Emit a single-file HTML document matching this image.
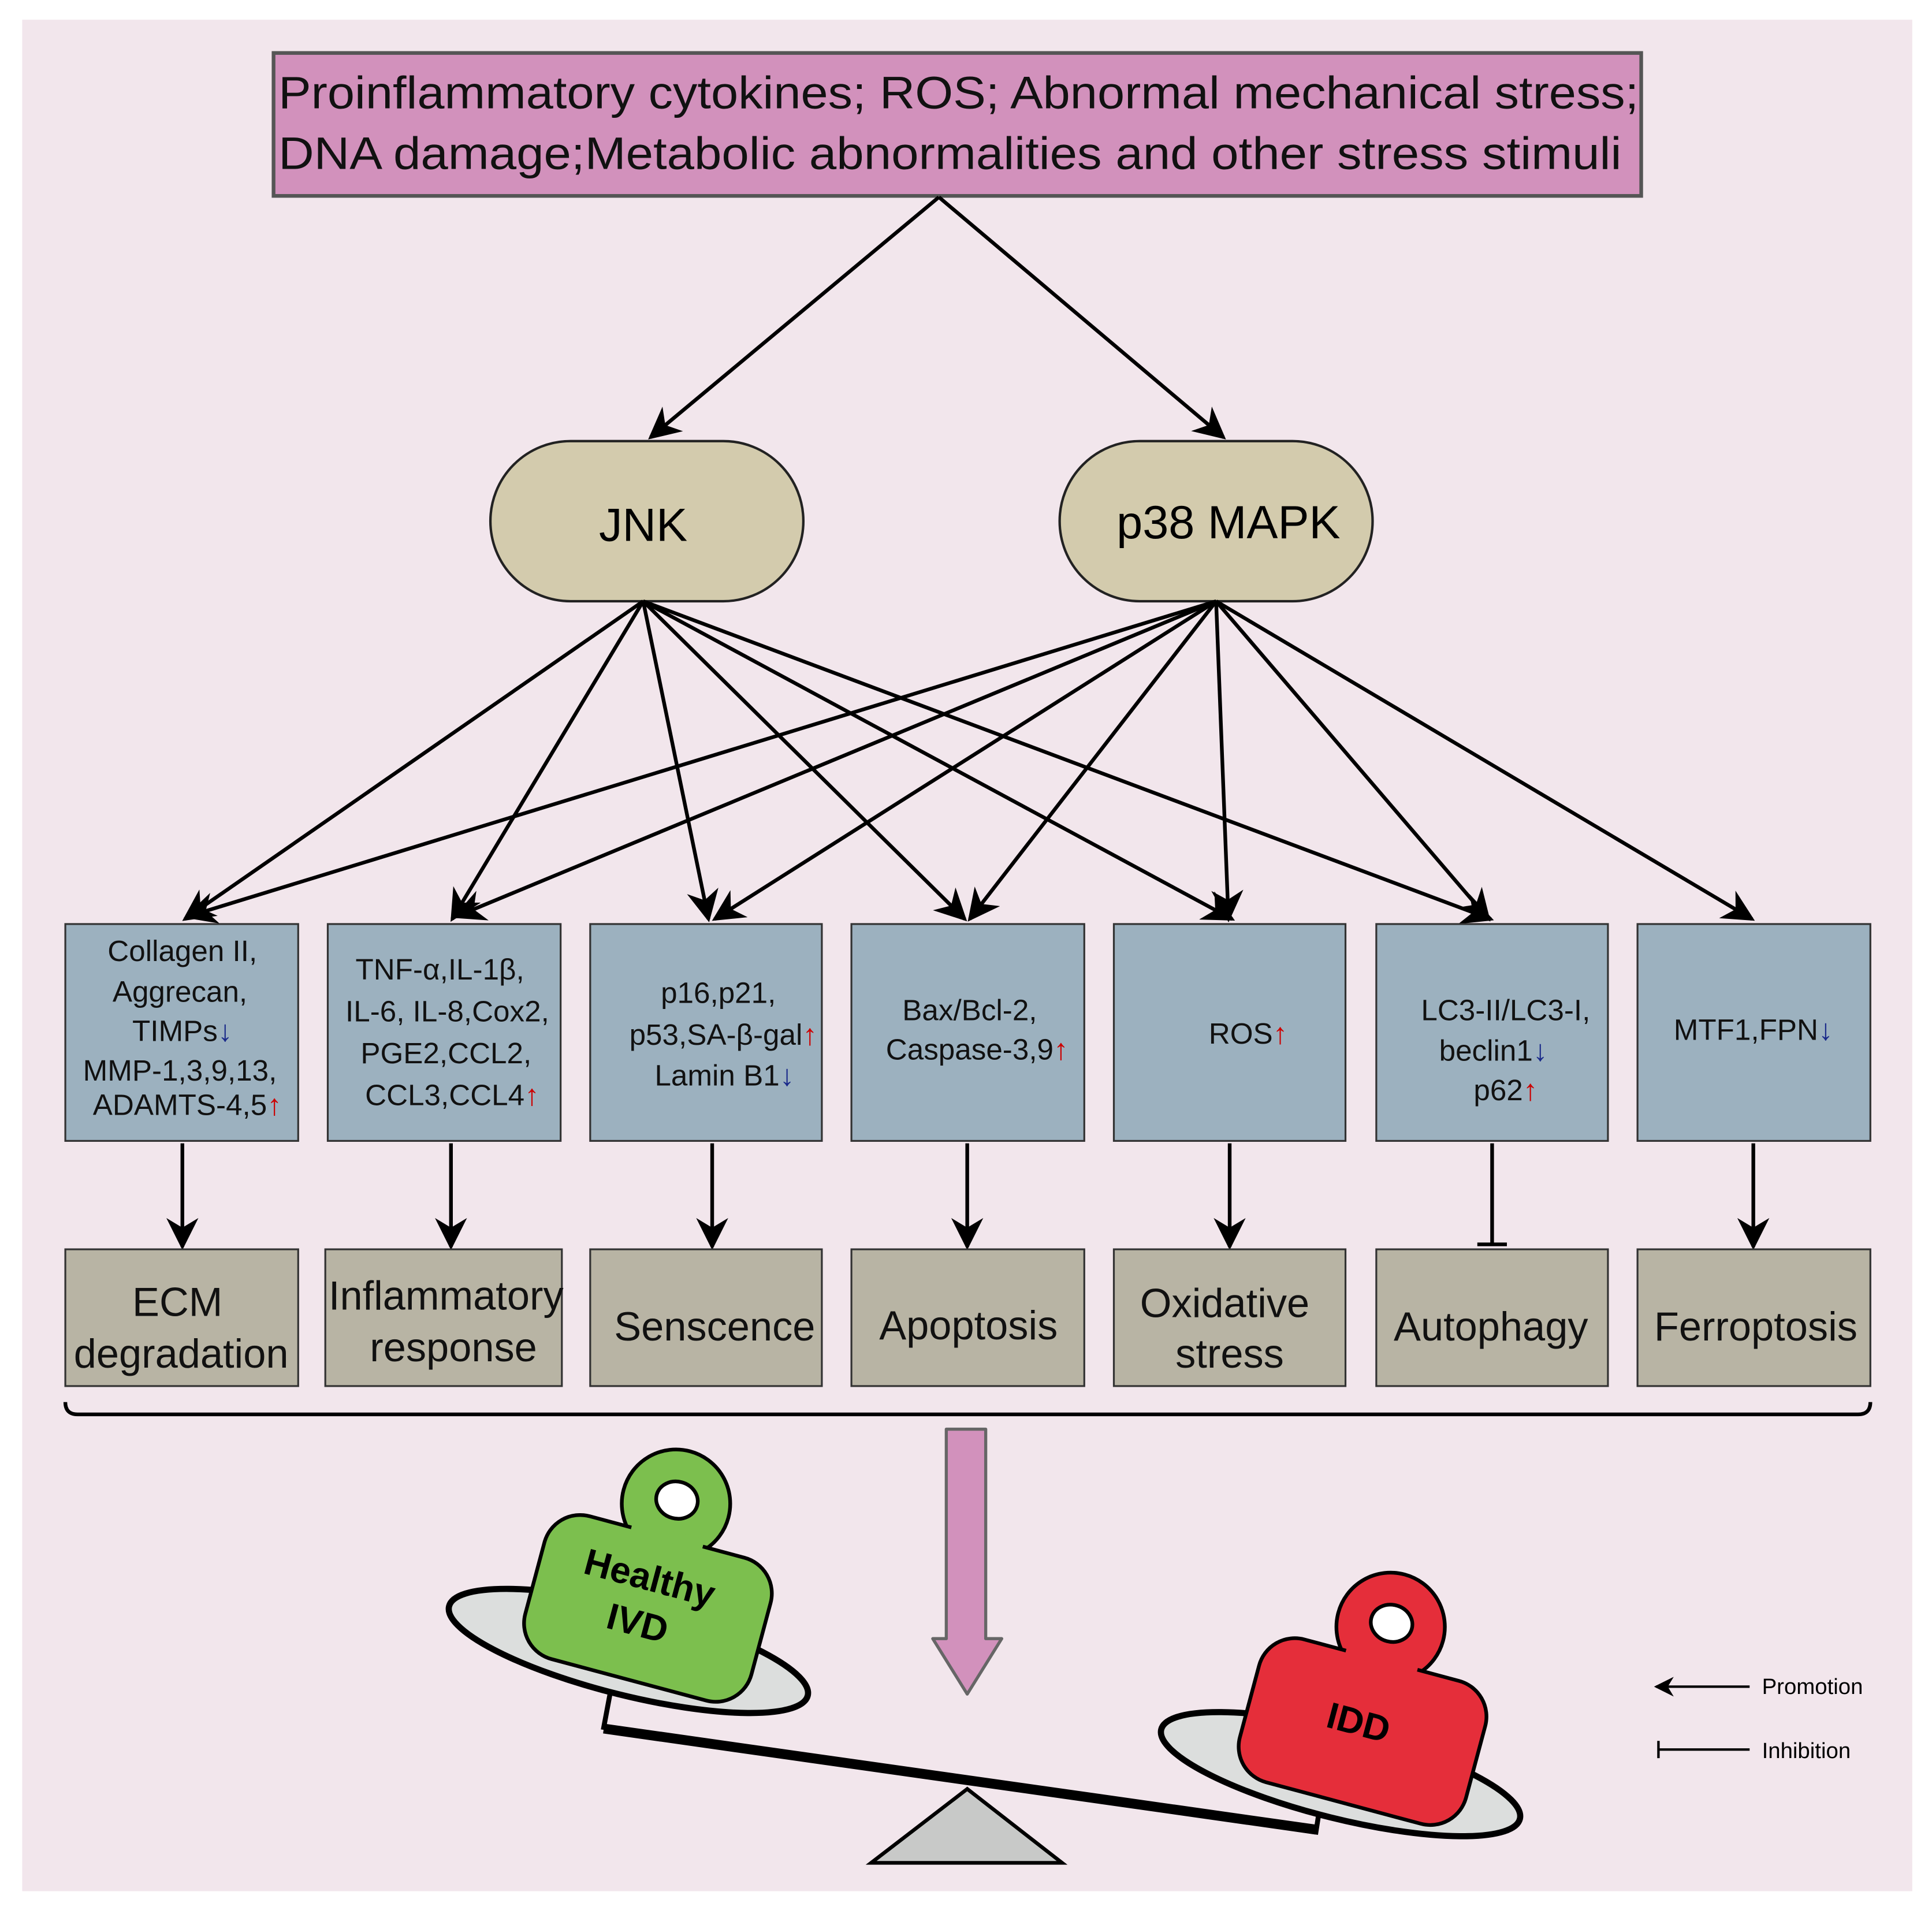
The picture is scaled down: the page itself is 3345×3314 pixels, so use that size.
<!DOCTYPE html>
<html><head><meta charset="utf-8"><style>html,body{margin:0;padding:0;background:#fff}svg{display:block}</style></head><body>
<svg width="3345" height="3314" viewBox="0 0 1568 1553.5" xmlns="http://www.w3.org/2000/svg" font-family="Liberation Sans, Arial, sans-serif">
<defs>
<marker id="a" viewBox="0 0 10 10" refX="9" refY="5" markerWidth="20" markerHeight="16" markerUnits="userSpaceOnUse" orient="auto"><path d="M0,0L10,5L0,10L3,5z" fill="#000"/></marker>
<marker id="b" viewBox="0 0 10 10" refX="9" refY="5" markerWidth="26" markerHeight="26" markerUnits="userSpaceOnUse" orient="auto"><path d="M0,0L10,5L0,10L3,5z" fill="#000"/></marker>
</defs>
<rect x="0" y="0" width="1568" height="1554" fill="#fff"/>
<rect x="18" y="16" width="1534" height="1519" fill="#f2e6ec"/>
<rect x="222" y="43" width="1110" height="116" fill="#d291bc" stroke="#555" stroke-width="3"/>
<text x="226" y="88" font-size="37" textLength="1104" lengthAdjust="spacingAndGlyphs" fill="#111">Proinflammatory cytokines; ROS; Abnormal mechanical stress;</text>
<text x="226" y="137" font-size="37" textLength="1090" lengthAdjust="spacingAndGlyphs" fill="#111">DNA damage;Metabolic abnormalities and other stress stimuli</text>
<g stroke="#000" stroke-width="3" fill="none">
<line x1="762" y1="160" x2="528" y2="355" marker-end="url(#b)"/>
<line x1="762" y1="160" x2="993" y2="355" marker-end="url(#b)"/>
</g>
<rect x="398" y="358" width="254" height="130" rx="65" fill="#d3cbad" stroke="#222" stroke-width="2"/>
<text x="522" y="439" font-size="38" text-anchor="middle">JNK</text>
<rect x="860" y="358" width="254" height="130" rx="65" fill="#d3cbad" stroke="#222" stroke-width="2"/>
<text x="997" y="437" font-size="38" text-anchor="middle">p38 MAPK</text>
<g stroke="#000" stroke-width="3" fill="none">
<line x1="522" y1="488" x2="150" y2="746" marker-end="url(#b)"/>
<line x1="522" y1="488" x2="367" y2="746" marker-end="url(#b)"/>
<line x1="522" y1="488" x2="575" y2="746" marker-end="url(#b)"/>
<line x1="522" y1="488" x2="783" y2="746" marker-end="url(#b)"/>
<line x1="522" y1="488" x2="1000" y2="746" marker-end="url(#b)"/>
<line x1="522" y1="488" x2="1210" y2="746" marker-end="url(#b)"/>
<line x1="987" y1="488" x2="152" y2="744" marker-end="url(#b)"/>
<line x1="987" y1="488" x2="370" y2="744" marker-end="url(#b)"/>
<line x1="987" y1="488" x2="580" y2="746" marker-end="url(#b)"/>
<line x1="987" y1="488" x2="787" y2="746" marker-end="url(#b)"/>
<line x1="987" y1="488" x2="997" y2="746" marker-end="url(#b)"/>
<line x1="987" y1="488" x2="1208" y2="746" marker-end="url(#b)"/>
<line x1="987" y1="488" x2="1422" y2="746" marker-end="url(#b)"/>
</g>
<g fill="#9cb1bf" stroke="#333" stroke-width="1.5">
<rect x="53" y="750" width="189" height="176"/><rect x="266" y="750" width="189" height="176"/>
<rect x="479" y="750" width="188" height="176"/><rect x="691" y="750" width="189" height="176"/>
<rect x="904" y="750" width="188" height="176"/><rect x="1117" y="750" width="188" height="176"/>
<rect x="1329" y="750" width="189" height="176"/>
</g>
<g font-size="24" text-anchor="middle" fill="#111">
<text x="148" y="780">Collagen II,</text><text x="146" y="813">Aggrecan,</text>
<text x="148" y="845">TIMPs<tspan fill="#1a2a8a">↓</tspan></text><text x="146" y="877">MMP-1,3,9,13,</text>
<text x="152" y="905">ADAMTS-4,5<tspan fill="#c00">↑</tspan></text>
<text x="357" y="795">TNF-α,IL-1β,</text><text x="363" y="829">IL-6, IL-8,Cox2,</text>
<text x="362" y="863">PGE2,CCL2,</text><text x="367" y="897">CCL3,CCL4<tspan fill="#c00">↑</tspan></text>
<text x="583" y="814">p16,p21,</text><text x="587" y="848">p53,SA-β-gal<tspan fill="#c00">↑</tspan></text>
<text x="588" y="881">Lamin B1<tspan fill="#1a2a8a">↓</tspan></text>
<text x="787" y="828">Bax/Bcl-2,</text><text x="793" y="860">Caspase-3,9<tspan fill="#c00">↑</tspan></text>
<text x="1013" y="847">ROS<tspan fill="#c00">↑</tspan></text>
<text x="1222" y="828">LC3-II/LC3-I,</text><text x="1212" y="861">beclin1<tspan fill="#1a2a8a">↓</tspan></text>
<text x="1222" y="893">p62<tspan fill="#c00">↑</tspan></text>
<text x="1423" y="844">MTF1,FPN<tspan fill="#1a2a8a">↓</tspan></text>
</g>
<g stroke="#000" stroke-width="3" fill="none">
<line x1="148" y1="928" x2="148" y2="1012" marker-end="url(#b)"/>
<line x1="366" y1="928" x2="366" y2="1012" marker-end="url(#b)"/>
<line x1="578" y1="928" x2="578" y2="1012" marker-end="url(#b)"/>
<line x1="785" y1="928" x2="785" y2="1012" marker-end="url(#b)"/>
<line x1="998" y1="928" x2="998" y2="1012" marker-end="url(#b)"/>
<line x1="1211" y1="928" x2="1211" y2="1010"/>
<line x1="1199" y1="1010" x2="1223" y2="1010"/>
<line x1="1423" y1="928" x2="1423" y2="1012" marker-end="url(#b)"/>
</g>
<g fill="#b8b4a4" stroke="#333" stroke-width="1.5">
<rect x="53" y="1014" width="189" height="111"/><rect x="264" y="1014" width="192" height="111"/>
<rect x="479" y="1014" width="188" height="111"/><rect x="691" y="1014" width="189" height="111"/>
<rect x="904" y="1014" width="188" height="111"/><rect x="1117" y="1014" width="188" height="111"/>
<rect x="1329" y="1014" width="189" height="111"/>
</g>
<g font-size="33" text-anchor="middle" fill="#111">
<text x="144" y="1068">ECM</text><text x="147" y="1110">degradation</text>
<text x="362" y="1063">Inflammatory</text><text x="368" y="1105">response</text>
<text x="580" y="1088">Senscence</text>
<text x="786" y="1087">Apoptosis</text>
<text x="994" y="1069">Oxidative</text><text x="998" y="1110">stress</text>
<text x="1210" y="1088">Autophagy</text>
<text x="1425" y="1088">Ferroptosis</text>
</g>
<path d="M53,1138 Q53,1148 63,1148 L1508,1148 Q1518,1148 1518,1138" fill="none" stroke="#000" stroke-width="3"/>
<path d="M768,1160 L800,1160 L800,1330 L813,1330 L785,1375 L757,1330 L768,1330 Z" fill="#d291bc" stroke="#666" stroke-width="2.5" stroke-linejoin="round"/>
<polygon points="785,1452 707,1512 862,1512" fill="#c8c9c8" stroke="#000" stroke-width="3"/>
<polyline points="496,1370 490,1402 1068,1487 1073,1455" fill="none" stroke="#000" stroke-width="4"/>
<line x1="490" y1="1403" x2="1068" y2="1485" stroke="#000" stroke-width="8"/>
<ellipse cx="510" cy="1340" rx="150" ry="36" transform="rotate(14 510 1340)" fill="#dcdedd" stroke="#000" stroke-width="5"/>
<ellipse cx="1088" cy="1440" rx="150" ry="36" transform="rotate(14 1088 1440)" fill="#dcdedd" stroke="#000" stroke-width="5"/>
<g transform="rotate(15 530 1290)">
<circle cx="530" cy="1218" r="44" fill="#7cbf4e" stroke="#000" stroke-width="3"/>
<rect x="435" y="1246" width="190" height="120" rx="30" fill="#7cbf4e" stroke="#000" stroke-width="3"/>
<rect x="500" y="1240" width="60" height="10" fill="#7cbf4e"/>
<ellipse cx="530" cy="1215" rx="17" ry="15" fill="#fff" stroke="#000" stroke-width="3"/>
<text x="525" y="1292" font-size="30" font-weight="bold" text-anchor="middle">Healthy</text>
<text x="525" y="1330" font-size="30" font-weight="bold" text-anchor="middle">IVD</text>
</g>
<g transform="rotate(15 1110 1390)">
<circle cx="1110" cy="1318" r="44" fill="#e52e3a" stroke="#000" stroke-width="3"/>
<rect x="1015" y="1346" width="190" height="120" rx="30" fill="#e52e3a" stroke="#000" stroke-width="3"/>
<rect x="1080" y="1340" width="60" height="10" fill="#e52e3a"/>
<ellipse cx="1110" cy="1315" rx="17" ry="15" fill="#fff" stroke="#000" stroke-width="3"/>
<text x="1105" y="1410" font-size="30" font-weight="bold" text-anchor="middle">IDD</text>
</g>
<line x1="1420" y1="1369" x2="1344" y2="1369" stroke="#000" stroke-width="2" marker-end="url(#a)"/>
<text x="1430" y="1375" font-size="18">Promotion</text>
<line x1="1346" y1="1420" x2="1420" y2="1420" stroke="#000" stroke-width="2"/>
<line x1="1346" y1="1413" x2="1346" y2="1427" stroke="#000" stroke-width="2"/>
<text x="1430" y="1427" font-size="18">Inhibition</text>
</svg>
</body></html>
